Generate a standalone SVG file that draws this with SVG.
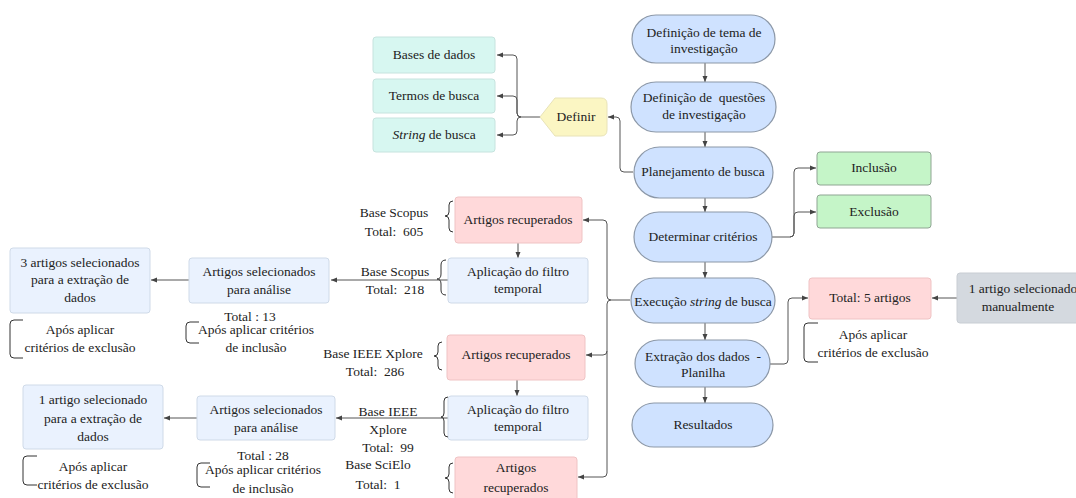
<svg xmlns="http://www.w3.org/2000/svg" width="1076" height="498" viewBox="0 0 1076 498">
<defs>
<marker id="ah" viewBox="0 0 6 6" refX="6" refY="3" markerWidth="6" markerHeight="6" markerUnits="userSpaceOnUse" orient="auto"><path d="M0,0.5 L6,3 L0,5.5 z" fill="#444"/></marker>
<style>
text{font-family:"Liberation Serif","DejaVu Serif",serif;font-size:13.5px;fill:#222;text-anchor:middle}
.st{fill:#CFE2FF;stroke:#8C98A8;stroke-width:1.2}
.teal{fill:#D7F7F1;stroke:#C6E3DE;stroke-width:1}
.yel{fill:#FBF6C3;stroke:#E8E3B8;stroke-width:1}
.pink{fill:#FFD9DA;stroke:#EFC3C4;stroke-width:1}
.lb{fill:#EAF2FE;stroke:#CFDAE8;stroke-width:1}
.grn{fill:#C5F5C8;stroke:#8FA593;stroke-width:1}
.gry{fill:#D4D9DF;stroke:#C8CDD3;stroke-width:1}
.c{fill:none;stroke:#555;stroke-width:1;marker-end:url(#ah)}
.br{fill:none;stroke:#333;stroke-width:1}
</style>
</defs>
<g id="connectors">
<path class="c" d="M705,63 V82"/>
<path class="c" d="M705,132 V147"/>
<path class="c" d="M705,198 V212"/>
<path class="c" d="M705,262 V278"/>
<path class="c" d="M705,323 V340"/>
<path class="c" d="M705,387 V403"/>
<path class="c" d="M633,172 H624 Q620,172 620,168 V121 Q620,117 616,117 H608"/>
<path class="c" d="M540,117 H521 Q517,117 517,113 V59 Q517,55 513,55 H497"/>
<path class="c" d="M521,117 Q517,117 517,113 V100 Q517,96 513,96 H497"/>
<path class="c" d="M521,117 Q517,117 517,121 V131 Q517,135 513,135 H497"/>
<path class="c" d="M772,237 H790 Q794,237 794,233 V172 Q794,168 798,168 H816"/>
<path class="c" d="M790,237 Q794,237 794,233 V216 Q794,212 798,212 H816"/>
<path class="c" d="M630,300 H611 Q607,300 607,296 V224 Q607,220 603,220 H583"/>
<path class="c" d="M611,300 Q607,300 607,304 V351 Q607,355 603,355 H586"/>
<path class="c" d="M607,351 V473 Q607,477 603,477 H578"/>
<path class="c" d="M518,243 V258"/>
<path class="c" d="M448,280 H331"/>
<path class="c" d="M189,280 H151"/>
<path class="c" d="M517,380 V396"/>
<path class="c" d="M448,418 H336"/>
<path class="c" d="M197,418 H164"/>
<path class="c" d="M770,364 H784 Q788,364 788,360 V302 Q788,298 792,298 H808"/>
<path class="c" d="M957,298 H932"/>
</g>
<g id="n-tema"><rect class="st" x="632" y="15" width="143" height="48" rx="24"/><text x="704" y="37">Definição de tema de</text><text x="704" y="53">investigação</text></g>
<g id="n-questoes"><rect class="st" x="631" y="82" width="145" height="50" rx="25"/><text x="704" y="102" xml:space="preserve">Definição de  questões</text><text x="704" y="119">de investigação</text></g>
<g id="n-planejamento"><rect class="st" x="634" y="147" width="139" height="51" rx="25.5"/><text x="703" y="176">Planejamento de busca</text></g>
<g id="n-determinar"><rect class="st" x="634" y="212" width="138" height="50" rx="25"/><text x="703" y="241">Determinar critérios</text></g>
<g id="n-execucao"><rect class="st" x="631" y="278" width="144" height="45" rx="22.5"/><text x="703" y="306">Execução <tspan font-style="italic">string</tspan> de busca</text></g>
<g id="n-extracao"><rect class="st" x="635" y="340" width="135" height="47" rx="23.5"/><text x="703" y="361" xml:space="preserve">Extração dos dados  -</text><text x="703" y="377">Planilha</text></g>
<g id="n-resultados"><rect class="st" x="632" y="403" width="141" height="44" rx="22"/><text x="703" y="429">Resultados</text></g>
<g id="n-bases"><rect class="teal" x="373" y="37" width="122" height="36" rx="3"/><text x="434" y="59">Bases de dados</text></g>
<g id="n-termos"><rect class="teal" x="373" y="79" width="122" height="34" rx="3"/><text x="434" y="100">Termos de busca</text></g>
<g id="n-string"><rect class="teal" x="373" y="118" width="122" height="34" rx="3"/><text x="434" y="139"><tspan font-style="italic">String</tspan> de busca</text></g>
<g id="n-definir"><path class="yel" d="M540,117 L555,98 H601 Q607,98 607,104 V130 Q607,136 601,136 H555 Z"/><text x="576" y="121">Definir</text></g>
<g id="n-inclusao"><rect class="grn" x="817" y="152" width="114" height="33" rx="3"/><text x="874" y="172">Inclusão</text></g>
<g id="n-exclusao"><rect class="grn" x="817" y="195" width="114" height="33" rx="3"/><text x="874" y="216">Exclusão</text></g>
<g id="n-total5"><rect class="pink" x="809" y="278" width="122" height="41" rx="3"/><text x="870" y="302">Total: 5 artigos</text></g>
<g id="n-manual"><rect class="gry" x="957" y="273" width="125" height="50" rx="3"/><text x="1023" y="293">1 artigo selecionado</text><text x="1018" y="311">manualmente</text></g>
<g id="l-total5"><path class="br" d="M818,323 H808 Q804,323 804,327 V358 Q804,362 808,362 H818"/><text x="873" y="339">Após aplicar</text><text x="873" y="357">critérios de exclusão</text></g>
<g id="n-scopus-rec"><rect class="pink" x="455" y="197" width="127" height="46" rx="3"/><text x="518" y="224">Artigos recuperados</text></g>
<g id="l-scopus-rec"><text x="394" y="217">Base Scopus</text><text x="394" y="236" xml:space="preserve">Total:  605</text><path class="br" d="M453,201 Q449,201 449,205 V212 Q449,216 445,216 Q449,216 449,220 V228 Q449,232 453,232"/></g>
<g id="n-scopus-filtro"><rect class="lb" x="448" y="258" width="140" height="45" rx="3"/><text x="518" y="276">Aplicação do filtro</text><text x="518" y="293">temporal</text></g>
<g id="l-scopus-filtro"><text x="395" y="276">Base Scopus</text><text x="395" y="294" xml:space="preserve">Total:  218</text><path class="br" d="M446,260 Q441,260 441,265 V274 Q441,279 437,279 Q441,279 441,284 V290 Q441,295 446,295"/></g>
<g id="n-scopus-sel"><rect class="lb" x="189" y="258" width="140" height="45" rx="3"/><text x="259" y="276">Artigos selecionados</text><text x="259" y="294">para análise</text></g>
<g id="l-scopus-sel"><text x="250" y="321">Total : 13</text><path class="br" d="M199,322 H190 Q186,322 186,326 V339 Q186,343 190,343 H199"/><text x="256" y="334">Após aplicar critérios</text><text x="256" y="352">de inclusão</text></g>
<g id="n-scopus-3"><rect class="lb" x="10" y="248" width="140" height="65" rx="3"/><text x="80" y="267">3 artigos selecionados</text><text x="80" y="284">para a extração de</text><text x="80" y="302">dados</text></g>
<g id="l-scopus-3"><path class="br" d="M23,320 H14 Q10,320 10,324 V354 Q10,358 14,358 H23"/><text x="80" y="334">Após aplicar</text><text x="80" y="352">critérios de exclusão</text></g>
<g id="n-ieee-rec"><rect class="pink" x="447" y="335" width="138" height="45" rx="3"/><text x="516" y="359">Artigos recuperados</text></g>
<g id="l-ieee-rec"><text x="373" y="358">Base IEEE Xplore</text><text x="375" y="376" xml:space="preserve">Total:  286</text><path class="br" d="M442,342 Q438,342 438,346 V352 Q438,356 434,356 Q438,356 438,360 V366 Q438,370 442,370"/></g>
<g id="n-ieee-filtro"><rect class="lb" x="448" y="396" width="140" height="44" rx="3"/><text x="518" y="414">Aplicação do filtro</text><text x="518" y="431">temporal</text></g>
<g id="l-ieee-filtro"><text x="388" y="416">Base IEEE</text><text x="388" y="434">Xplore</text><text x="388" y="452" xml:space="preserve">Total:  99</text><path class="br" d="M448,397 Q444,397 444,401 V413 Q444,417 441,417 Q444,417 444,421 V433 Q444,437 448,437"/></g>
<g id="n-ieee-sel"><rect class="lb" x="197" y="396" width="138" height="44" rx="3"/><text x="266" y="414">Artigos selecionados</text><text x="266" y="432">para análise</text></g>
<g id="l-ieee-sel"><text x="263" y="460">Total : 28</text><path class="br" d="M210,463 H201 Q197,463 197,467 V483 Q197,487 201,487 H210"/><text x="263" y="474">Após aplicar critérios</text><text x="263" y="493">de inclusão</text></g>
<g id="n-ieee-1"><rect class="lb" x="23" y="385" width="140" height="64" rx="3"/><text x="93" y="404">1 artigo selecionado</text><text x="93" y="423">para a extração de</text><text x="93" y="441">dados</text></g>
<g id="l-ieee-1"><path class="br" d="M37,456 H27 Q23,456 23,460 V481 Q23,485 27,485 H37"/><text x="93" y="471">Após aplicar</text><text x="93" y="489">critérios de exclusão</text></g>
<g id="n-scielo-rec"><rect class="pink" x="455" y="457" width="122" height="45" rx="3"/><text x="516" y="472">Artigos</text><text x="516" y="492">recuperados</text></g>
<g id="l-scielo-rec"><text x="378" y="469">Base SciElo</text><text x="378" y="489" xml:space="preserve">Total:  1</text><path class="br" d="M453,463 Q449,463 449,467 V474 Q449,478 445,478 Q449,478 449,482 V489 Q449,493 453,493"/></g>
</svg>
